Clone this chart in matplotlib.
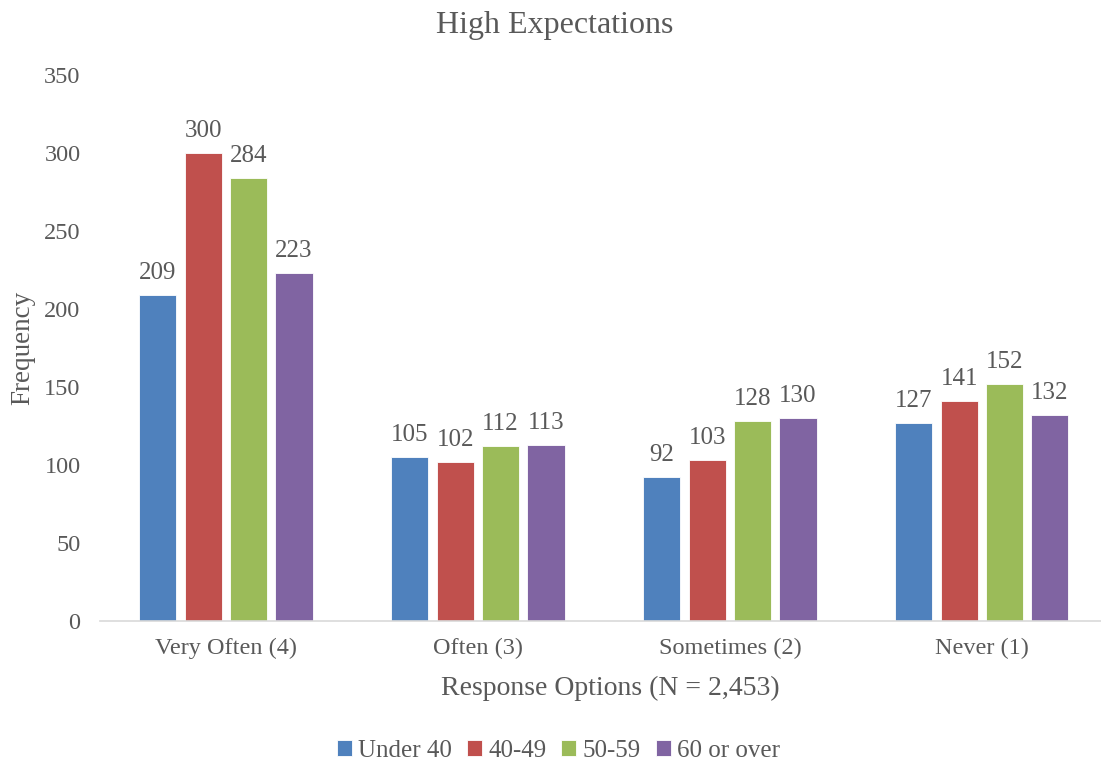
import numpy as np
import matplotlib.pyplot as plt

categories = ['Very Often (4)', 'Often (3)', 'Sometimes (2)', 'Never (1)']
groups = ['Under 40', '40-49', '50-59', '60 or over']
under_40 = [209, 105, 92, 127]
age_40_49 = [300, 102, 103, 141]
age_50_59 = [284, 112, 128, 152]
age_60_over = [223, 113, 130, 132]
series = [under_40, age_40_49, age_50_59, age_60_over]
colors = ['#4F81BD', '#C0504D', '#9BBB59', '#8064A2']

plt.rcParams['font.family'] = ['Liberation Serif', 'DejaVu Serif']
txt = '#595959'

fig = plt.figure(figsize=(11.01, 7.66), dpi=100)
ax = fig.add_axes([0.0908, 0.1893, 0.9155, 0.7128])

x = np.arange(len(categories))
step = 0.18
width = 0.147
for i, (vals, name, c) in enumerate(zip(series, groups, colors)):
    bars = ax.bar(x + (i - 1.5) * step, vals, width, color=c, label=name,
                  edgecolor='white', linewidth=0.6)
    ax.bar_label(bars, padding=8, fontsize=18, color=txt)

ax.set_xlim(-0.5, 3.5)
ax.set_ylim(0, 350)
ax.set_yticks(range(0, 351, 50))
ax.set_xticks(x)
ax.set_xticklabels(categories)
ax.tick_params(axis='both', length=0, labelsize=17.5, colors=txt)
ax.tick_params(axis='x', pad=12)
ax.tick_params(axis='y', pad=14)
for s in ['top', 'right', 'left']:
    ax.spines[s].set_visible(False)
ax.spines['bottom'].set_color('#D9D9D9')
ax.spines['bottom'].set_linewidth(1.2)

fig.text(0.504, 0.967, 'High Expectations', fontsize=23, color=txt,
         ha='center', va='center')
ax.set_ylabel('Frequency', fontsize=19.5, color=txt, labelpad=6)
fig.text(0.554, 1 - 688 / 766, 'Response Options (N = 2,453)', fontsize=20,
         color=txt, ha='center', va='center')

fig.legend(loc='center', bbox_to_anchor=(0.507, 0.02), ncol=4, frameon=False,
           fontsize=18, labelcolor=txt, handlelength=0.6, handleheight=0.6,
           handletextpad=0.25, columnspacing=0.6)

plt.savefig('out.png', dpi=100)
